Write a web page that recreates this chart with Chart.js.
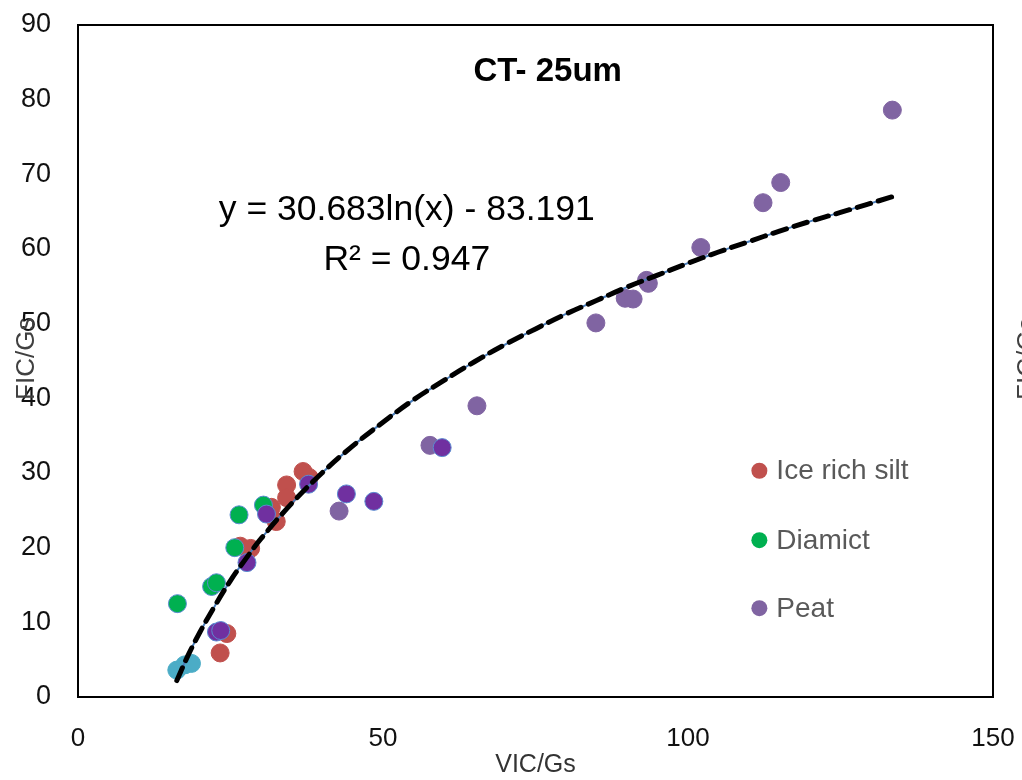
<!DOCTYPE html>
<html>
<head>
<meta charset="utf-8">
<script src="https://cdn.jsdelivr.net/npm/chart.js@4.4.1/dist/chart.umd.min.js"></script>
<style>
  html, body { margin: 0; padding: 0; background: #fff; }
  #wrap { width: 1022px; height: 780px; position: relative; }
</style>
</head>
<body>
<div id="wrap"><canvas id="c"></canvas></div>
<script>
// ---- Data ----
const seriesNames = ['Ice rich silt', 'Diamict', 'Peat'];

const iceSiltX = [23.3, 24.4, 26.6, 28.3, 31.7, 32.5, 34.2, 34.2, 36.9, 37.9];
const iceSiltY = [5.9, 8.5, 20.2, 19.9, 25.4, 23.5, 28.4, 26.7, 30.2, 29.4];

const diamictX = [16.3, 21.9, 22.7, 25.7, 26.4, 30.4];
const diamictY = [12.5, 14.8, 15.3, 20.0, 24.4, 25.7];

const peatX = [42.8, 57.7, 65.4, 84.9, 89.7, 91.0, 93.2, 93.5, 102.1, 112.3, 115.2, 133.5];
const peatY = [24.9, 33.7, 39.0, 50.1, 53.4, 53.3, 55.8, 55.4, 60.2, 66.2, 68.9, 78.6];

const peatDarkX = [22.7, 23.4, 27.7, 30.9, 37.8, 44.0, 48.5, 59.7];
const peatDarkY = [8.7, 8.9, 18.0, 24.5, 28.5, 27.2, 26.2, 33.4];

const otherX = [16.2, 17.5, 18.6];
const otherY = [3.6, 4.3, 4.5];

// trendline points
const trendX = [16.2, 18, 20, 22.5, 25, 27.5, 30, 35, 40, 45, 50, 55, 60, 65, 70, 75, 80, 85, 90, 95, 100, 105, 110, 115, 120, 125, 133.5];
const trendY = [2.2, 5.5, 8.7, 12.3, 15.6, 18.5, 21.2, 25.9, 30.0, 33.6, 36.8, 39.8, 42.4, 44.9, 47.2, 49.3, 51.3, 53.1, 54.9, 56.5, 58.1, 59.6, 61.0, 62.4, 63.7, 64.9, 67.0];

const xTicks = [0, 50, 100, 150];
const yTicks = [0, 10, 20, 30, 40, 50, 60, 70, 80, 90];

const chartTitle = 'CT- 25um';
const equationText = 'y = 30.683ln(x) - 83.191';
const r2Text = 'R² = 0.947';
const xTitle = 'VIC/Gs';
const yTitle = 'FIC/Gs';

// ---- helpers ----
const pts = (xs, ys) => xs.map((v, i) => ({ x: v, y: ys[i] }));
const FONT = '"Liberation Sans", Arial, sans-serif';

const overlay = {
  id: 'overlay',
  beforeDatasetsDraw(chart) {
    const { ctx, chartArea: a } = chart;
    ctx.save();
    ctx.strokeStyle = '#000';
    ctx.lineWidth = 2;
    ctx.strokeRect(a.left, a.top, a.right - a.left, a.bottom - a.top);
    ctx.restore();
  },
  afterDatasetsDraw(chart) {
    const { ctx, scales: { x, y } } = chart;
    ctx.save();
    ctx.textAlign = 'center';
    ctx.textBaseline = 'middle';
    ctx.fillStyle = '#000';
    ctx.font = 'bold 33px ' + FONT;
    ctx.fillText(chartTitle, x.getPixelForValue(77), y.getPixelForValue(83.7));
    ctx.font = '35.5px ' + FONT;
    ctx.fillText(equationText, x.getPixelForValue(53.9), y.getPixelForValue(65.2));
    ctx.fillText(r2Text, x.getPixelForValue(53.9), y.getPixelForValue(58.5));
    const legendItems = [
      { label: seriesNames[0], color: '#C0504D', y: 30.3 },
      { label: seriesNames[1], color: '#00B050', y: 21.0 },
      { label: seriesNames[2], color: '#8064A2', y: 11.9 }
    ];
    ctx.textAlign = 'left';
    ctx.font = '28px ' + FONT;
    legendItems.forEach(it => {
      const px = x.getPixelForValue(111.7);
      const py = y.getPixelForValue(it.y);
      ctx.fillStyle = it.color;
      ctx.beginPath();
      ctx.arc(px, py, 8, 0, Math.PI * 2);
      ctx.fill();
      ctx.fillStyle = '#595959';
      ctx.fillText(it.label, px + 17, py + 1);
    });
    ctx.textAlign = 'center';
    ctx.fillStyle = '#333';
    ctx.font = '25px ' + FONT;
    ctx.fillText(xTitle, (x.left + x.right) / 2, 765);
    ctx.save();
    ctx.translate(27, y.getPixelForValue(45.3));
    ctx.rotate(-Math.PI / 2);
    ctx.fillStyle = '#404040';
    ctx.font = '26px ' + FONT;
    ctx.fillText(yTitle, 0, 0);
    ctx.restore();
    ctx.save();
    ctx.translate(1028, y.getPixelForValue(45.3));
    ctx.rotate(-Math.PI / 2);
    ctx.fillStyle = '#404040';
    ctx.font = '26px ' + FONT;
    ctx.fillText(yTitle, 0, 0);
    ctx.restore();
    ctx.restore();
  }
};

new Chart(document.getElementById('c'), {
  type: 'scatter',
  data: {
    datasets: [
      {
        label: 'trend-dash', type: 'line', data: pts(trendX, trendY),
        borderColor: '#000', borderWidth: 5, borderDash: [14, 8], borderCapStyle: 'round',
        pointRadius: 0, tension: 0.4, fill: false, order: 0
      },
      {
        label: 'trend-base', type: 'line', data: pts(trendX, trendY),
        borderColor: '#4A7EBB', borderWidth: 2, pointRadius: 0, tension: 0.4, fill: false, order: 1
      },
      {
        label: 'other', data: pts(otherX, otherY),
        backgroundColor: '#4BACC6', borderColor: '#4BACC6', borderWidth: 1, pointRadius: 9, order: 2
      },
      {
        label: 'Peat 2', data: pts(peatDarkX, peatDarkY),
        backgroundColor: '#7030A0', borderColor: '#5B8BD0', borderWidth: 1, pointRadius: 9, order: 3
      },
      {
        label: seriesNames[1], data: pts(diamictX, diamictY),
        backgroundColor: '#00B050', borderColor: '#5B8BD0', borderWidth: 1, pointRadius: 9, order: 4
      },
      {
        label: seriesNames[0], data: pts(iceSiltX, iceSiltY),
        backgroundColor: '#C0504D', borderColor: '#C0504D', borderWidth: 1, pointRadius: 9, order: 5
      },
      {
        label: seriesNames[2], data: pts(peatX, peatY),
        backgroundColor: '#8064A2', borderColor: '#8064A2', borderWidth: 1, pointRadius: 9, order: 6
      }
    ]
  },
  options: {
    responsive: true,
    maintainAspectRatio: false,
    animation: false,
    layout: { padding: { top: 25, right: 29, left: 0, bottom: 0 } },
    plugins: { legend: { display: false }, tooltip: { enabled: false }, title: { display: false } },
    scales: {
      x: {
        type: 'linear', min: xTicks[0], max: xTicks[xTicks.length - 1],
        afterBuildTicks: s => { s.ticks = xTicks.map(v => ({ value: v })); },
        grid: { display: false, drawTicks: false },
        border: { display: false },
        ticks: { padding: 26, color: '#111', font: { family: FONT, size: 26 } },
        afterFit: s => { s.height = 83; s.paddingLeft = 0; s.paddingRight = 0; }
      },
      y: {
        type: 'linear', min: yTicks[0], max: yTicks[yTicks.length - 1],
        afterBuildTicks: s => { s.ticks = yTicks.map(v => ({ value: v })); },
        grid: { display: false, drawTicks: false },
        border: { display: false },
        ticks: { padding: 27, color: '#111', font: { family: FONT, size: 27 } },
        afterFit: s => { s.width = 78; s.paddingTop = 0; s.paddingBottom = 0; }
      }
    }
  },
  plugins: [overlay]
});
</script>
</body>
</html>
